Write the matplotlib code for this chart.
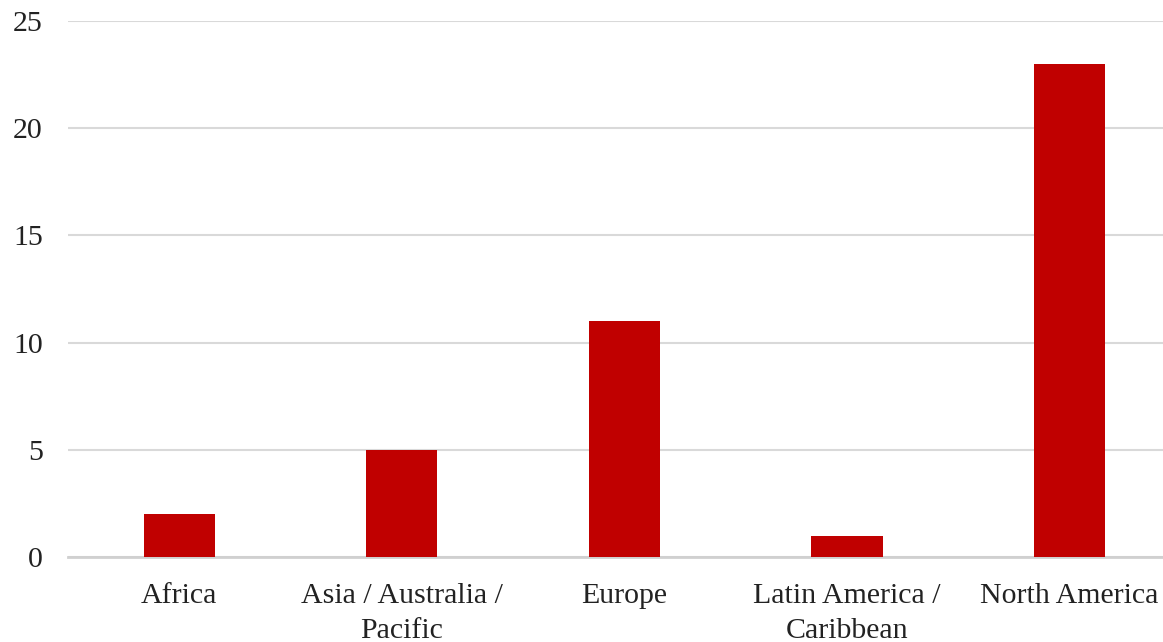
import numpy as np
import matplotlib.pyplot as plt

regions = ["Africa", "Asia / Australia /\nPacific", "Europe", "Latin America /\nCaribbean", "North America"]
counts = [2, 5, 11, 1, 23]
yticks = [0, 5, 10, 15, 20, 25]

plt.rcParams["font.family"] = ["Liberation Serif", "DejaVu Serif"]

fig = plt.figure(figsize=(11.63, 6.42), dpi=100)
ax = fig.add_axes([68 / 1163, 85 / 642, 1 - 68 / 1163, 536 / 642])

x = np.arange(len(regions))
ax.bar(x, counts, width=0.32, color="#C00000", zorder=3)

ax.set_ylim(0, 25)
ax.set_xlim(-0.5, 4.42)
ax.set_yticks(yticks)
ax.set_xticks(x)
ax.set_xticklabels(regions, linespacing=1.45)
ax.yaxis.grid(True, color="#D9D9D9", linewidth=1.5, zorder=0)
ax.tick_params(axis="both", length=0, labelsize=21.5, colors="#222222")
ax.tick_params(axis="y", pad=18)
ax.tick_params(axis="x", pad=19)
for s in ["top", "right", "left"]:
    ax.spines[s].set_visible(False)
ax.spines["bottom"].set_color("#D0D0D0")
ax.spines["bottom"].set_linewidth(2)

fig.savefig("out.png", dpi=100)
